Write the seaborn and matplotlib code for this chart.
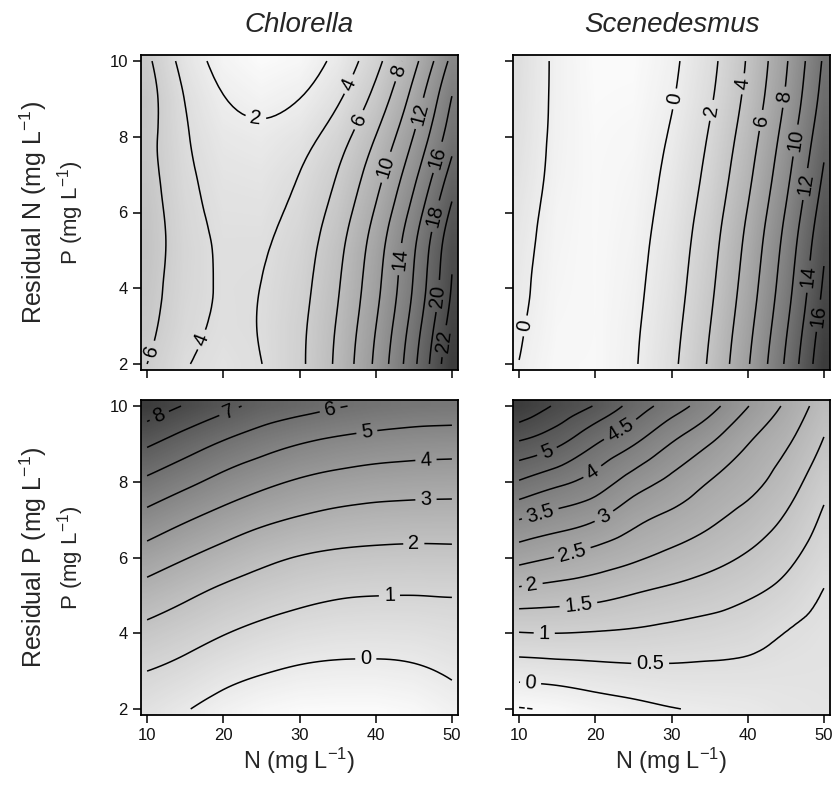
import numpy as np
import matplotlib
matplotlib.use("Agg")
import matplotlib.pyplot as plt
import matplotlib.tri as mtri
from matplotlib.colors import LinearSegmentedColormap
import seaborn as sns

# grid: columns N = 10..50 (mg/L), rows P = 2..10 (mg/L)
n_values = [10, 15, 20, 25, 30, 35, 40, 45, 50]
p_values = [2, 3, 4, 5, 6, 7, 8, 9, 10]

chlorella_resid_n = [
    [6.00, 4.17, 3.49, 3.98, 5.63, 8.44, 12.40, 17.53, 23.82],
    [6.63, 4.63, 3.79, 4.10, 5.57, 8.19, 11.96, 16.90, 22.98],
    [6.97, 4.84, 3.86, 4.03, 5.35, 7.83, 11.45, 16.22, 22.15],
    [7.24, 4.93, 3.80, 3.85, 5.07, 7.47, 11.04, 15.79, 21.71],
    [7.13, 4.77, 3.56, 3.51, 4.60, 6.84, 10.23, 14.78, 20.47],
    [6.84, 4.49, 3.24, 3.08, 4.03, 6.07, 9.22, 13.46, 18.81],
    [6.77, 4.23, 2.79, 2.45, 3.21, 5.07, 8.03, 12.09, 17.24],
    [6.95, 3.93, 2.09, 1.45, 2.00, 3.74, 6.66, 10.78, 16.09],
    [6.46, 3.29, 1.32, 0.54, 0.96, 2.58, 5.38, 9.39, 14.58],
]
scenedesmus_resid_n = [
    [-0.03, -0.97, -1.02, -0.16, 1.59, 4.25, 7.80, 12.26, 17.61],
    [0.20, -0.85, -1.00, -0.25, 1.39, 3.94, 7.39, 11.73, 16.98],
    [0.41, -0.75, -1.01, -0.37, 1.17, 3.61, 6.95, 11.18, 16.32],
    [0.58, -0.67, -1.02, -0.48, 0.97, 3.32, 6.57, 10.72, 15.77],
    [0.80, -0.57, -1.04, -0.61, 0.72, 2.96, 6.09, 10.12, 15.05],
    [1.07, -0.43, -1.04, -0.74, 0.46, 2.55, 5.55, 9.45, 14.24],
    [1.26, -0.36, -1.08, -0.90, 0.18, 2.16, 5.04, 8.82, 13.50],
    [1.40, -0.33, -1.16, -1.09, -0.12, 1.76, 4.53, 8.20, 12.77],
    [1.48, -0.32, -1.22, -1.22, -0.32, 1.48, 4.18, 7.78, 12.28],
]
chlorella_resid_p = [
    [0.43, 0.06, -0.34, -0.62, -0.78, -0.81, -0.81, -0.69, -0.35],
    [1.00, 0.71, 0.34, 0.07, -0.11, -0.19, -0.20, -0.12, 0.11],
    [1.72, 1.39, 1.04, 0.76, 0.55, 0.44, 0.41, 0.44, 0.56],
    [2.55, 2.14, 1.75, 1.46, 1.23, 1.07, 1.01, 1.00, 1.03],
    [3.53, 3.05, 2.62, 2.24, 1.96, 1.81, 1.74, 1.71, 1.73],
    [4.63, 4.09, 3.61, 3.20, 2.90, 2.69, 2.58, 2.53, 2.52],
    [5.80, 5.24, 4.70, 4.25, 3.90, 3.67, 3.52, 3.45, 3.42],
    [7.13, 6.48, 5.88, 5.40, 5.01, 4.75, 4.58, 4.47, 4.42],
    [8.62, 7.93, 7.31, 6.71, 6.39, 6.07, 5.84, 5.70, 5.64],
]
scenedesmus_resid_p = [
    [-0.53, -0.43, -0.27, -0.14, -0.02, 0.04, 0.10, 0.22, 0.28],
    [0.22, 0.27, 0.34, 0.39, 0.41, 0.40, 0.38, 0.33, 0.31],
    [0.98, 1.00, 0.97, 0.93, 0.86, 0.79, 0.69, 0.49, 0.36],
    [1.80, 1.72, 1.63, 1.48, 1.35, 1.22, 1.05, 0.81, 0.46],
    [2.67, 2.48, 2.29, 2.08, 1.87, 1.67, 1.44, 1.13, 0.70],
    [3.50, 3.27, 3.03, 2.63, 2.36, 2.09, 1.81, 1.44, 0.91],
    [4.46, 4.13, 3.78, 3.27, 2.88, 2.49, 2.17, 1.75, 1.16],
    [5.42, 5.08, 4.52, 4.03, 3.48, 3.01, 2.51, 2.06, 1.45],
    [6.45, 5.92, 5.46, 4.81, 4.26, 3.69, 3.02, 2.42, 1.72],
]

species = ["Chlorella", "Scenedesmus"]
row_titles = ["Residual N (mg L$^{-1}$)", "Residual P (mg L$^{-1}$)"]
panels = [
    [chlorella_resid_n, scenedesmus_resid_n],
    [chlorella_resid_p, scenedesmus_resid_p],
]
labelled_levels = [
    [np.arange(2, 23, 2), np.arange(0, 17, 2)],
    [np.arange(0, 9, 1), np.arange(0, 5.1, 0.5)],
]
plain_levels = [
    [[], []],
    [[], [-0.5, 5.5, 6]],
]
# where the contour labels sit (N, P)
label_spots = [
    [
        [(24.2, 8.43), (36.5, 9.39), (38.0, 8.43), (43.5, 9.7), (41.3, 7.2), (46.1, 8.6),
         (43.1, 4.77), (47.9, 7.47), (47.9, 5.9), (47.9, 3.8), (49.0, 2.6), (17.2, 2.64),
         (10.8, 2.33)],
        [(10.9, 3.0), (30.4, 9.0), (35.2, 8.7), (39.3, 9.4), (41.5, 8.44), (44.6, 9.05),
         (46.3, 7.9), (47.6, 6.75), (48.3, 4.3), (49.4, 3.27)],
    ],
    [
        [(11.7, 9.7), (20.9, 9.79), (34.1, 9.83), (38.9, 9.22), (46.6, 8.56), (46.6, 7.51),
         (45.0, 6.37), (41.8, 5.0), (38.7, 3.34)],
        [(13.7, 8.78), (23.5, 9.3), (19.8, 8.21), (13.0, 7.0), (21.3, 7.03), (17.0, 6.12),
         (11.7, 5.3), (17.8, 4.72), (13.3, 4.0), (27.2, 3.2), (11.5, 2.67)],
    ],
]

sns.set_theme(style="ticks")
plt.rcParams["font.family"] = ["Liberation Sans", "DejaVu Sans"]
plt.rcParams["mathtext.fontset"] = "custom"
plt.rcParams["mathtext.rm"] = "Liberation Sans"
plt.rcParams["mathtext.it"] = "Liberation Sans:italic"

gray_map = LinearSegmentedColormap.from_list("grey_ramp", ["#fafafa", "#3c3c3c"])

W, H = 836, 791
fig = plt.figure(figsize=(W / 100, H / 100), dpi=100)
lefts = [141, 513]
tops = [55, 400]
box_w, box_h = 317, 315

N_grid, P_grid = np.meshgrid(n_values, p_values)
grid_tri = mtri.Triangulation(N_grid.ravel(), P_grid.ravel())
refiner = mtri.UniformTriRefiner(grid_tri)

for r in range(2):
    for c in range(2):
        ax = fig.add_axes([lefts[c] / W, 1 - (tops[r] + box_h) / H, box_w / W, box_h / H])
        Z = np.array(panels[r][c])
        ax.imshow(Z, origin="lower", extent=(7.5, 52.5, 1.5, 10.5), cmap=gray_map,
                  interpolation="bilinear", aspect="auto")
        fine_tri, fine_z = refiner.refine_field(Z.ravel(), subdiv=3)
        if len(plain_levels[r][c]):
            ax.tricontour(fine_tri, fine_z, levels=plain_levels[r][c], colors="black",
                          linewidths=1.1)
        cs = ax.tricontour(fine_tri, fine_z, levels=labelled_levels[r][c], colors="black",
                           linewidths=1.1)
        ax.set_xlim(9.2, 50.8)
        ax.set_ylim(1.84, 10.16)
        ax.clabel(cs, fmt="%g", fontsize=14.5, inline=True, inline_spacing=5,
                  manual=label_spots[r][c])
        ax.set_xticks([10, 20, 30, 40, 50])
        ax.set_yticks([2, 4, 6, 8, 10])
        ax.tick_params(direction="out", length=6, width=1.1, color="black",
                       labelsize=12, labelcolor="#111111")
        for s in ax.spines.values():
            s.set_linewidth(1.3)
            s.set_color("black")
        if r == 0:
            ax.set_xticklabels([])
        else:
            ax.set_xlabel("N (mg L$^{-1}$)", fontsize=17, labelpad=2)
        if c == 1:
            ax.set_yticklabels([])
        if r == 0:
            fig.text((lefts[c] + box_w / 2) / W, 1 - 25 / H, species[c], ha="center",
                     va="center", fontsize=20, style="italic")
    mid_y = 1 - (tops[r] + box_h / 2) / H
    fig.text(33 / W, mid_y, row_titles[r], rotation=90, ha="center", va="center", fontsize=18)
    fig.text(71 / W, mid_y, "P (mg L$^{-1}$)", rotation=90, ha="center", va="center", fontsize=16)

fig.savefig("out.png", dpi=100, facecolor="white")
